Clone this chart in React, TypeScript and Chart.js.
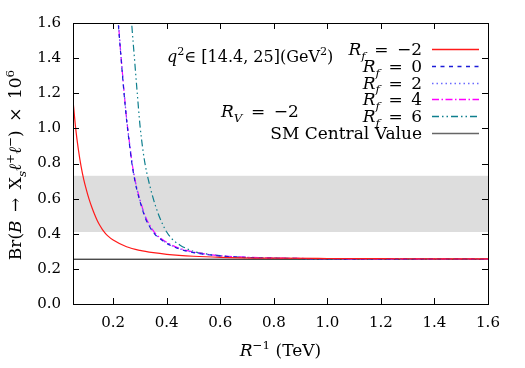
import { useEffect, useRef } from "react";
import { Chart, registerables } from "chart.js";

Chart.register(...registerables);

// Axis ranges and tick labels
const xMin = 0.05;
const xMax = 1.6;
const xTickValues = [0.2, 0.4, 0.6, 0.8, 1.0, 1.2, 1.4, 1.6];
const yMin = 0;
const yMax = 1.6;
const yTickValues = [0, 0.2, 0.4, 0.6, 0.8, 1.0, 1.2, 1.4, 1.6];

// Experimental band and SM central value
const bandLow = 0.41;
const bandHigh = 0.73;
const smValue = 0.255;

// R_f = -2
const rfM2X = [0.05, 0.06, 0.07, 0.08, 0.09, 0.1, 0.11, 0.12, 0.13, 0.14, 0.15, 0.16, 0.17, 0.18, 0.2, 0.25, 0.3, 0.35, 0.4, 0.5, 0.6, 0.8, 1.0, 1.2, 1.4, 1.6];
const rfM2Y = [1.16, 1.0, 0.88, 0.785, 0.71, 0.65, 0.597, 0.552, 0.512, 0.477, 0.448, 0.424, 0.404, 0.388, 0.364, 0.326, 0.305, 0.292, 0.283, 0.272, 0.266, 0.261, 0.259, 0.258, 0.257, 0.257];

// R_f = 0, 2, 4 share one grid
const rfLowX = [0.21, 0.22, 0.23, 0.24, 0.25, 0.26, 0.27, 0.28, 0.29, 0.3, 0.32, 0.34, 0.36, 0.38, 0.4, 0.45, 0.5, 0.6, 0.7, 0.8, 1.0, 1.2, 1.4, 1.6];
const rf0Y = [1.78, 1.58, 1.39, 1.21, 1.05, 0.92, 0.8, 0.71, 0.64, 0.585, 0.49, 0.43, 0.39, 0.366, 0.345, 0.312, 0.293, 0.273, 0.265, 0.261, 0.258, 0.257, 0.257, 0.256];
const rf2Y = [1.79, 1.59, 1.4, 1.22, 1.06, 0.93, 0.81, 0.715, 0.645, 0.59, 0.495, 0.434, 0.393, 0.368, 0.347, 0.313, 0.294, 0.273, 0.265, 0.261, 0.258, 0.257, 0.257, 0.256];
const rf4Y = [1.79, 1.59, 1.4, 1.22, 1.06, 0.93, 0.81, 0.72, 0.65, 0.595, 0.5, 0.44, 0.398, 0.372, 0.351, 0.316, 0.296, 0.275, 0.266, 0.262, 0.258, 0.257, 0.257, 0.256];

// R_f = 6
const rf6X = [0.26, 0.27, 0.28, 0.29, 0.3, 0.31, 0.32, 0.34, 0.36, 0.38, 0.4, 0.42, 0.45, 0.5, 0.55, 0.6, 0.7, 0.8, 1.0, 1.2, 1.4, 1.6];
const rf6Y = [1.8, 1.58, 1.39, 1.2, 1.02, 0.89, 0.79, 0.655, 0.55, 0.47, 0.41, 0.37, 0.335, 0.3, 0.285, 0.275, 0.263, 0.26, 0.258, 0.257, 0.257, 0.256];

const smX = [xMin, xMax];
const smY = [smValue, smValue];

// Series styling
const seriesColors = ["#ff1a1a", "#1c1cd8", "#6a6aff", "#ff00ff", "#0e7f8e", "#000000"];
const legendColors = ["#ff1a1a", "#1c1cd8", "#6a6aff", "#ff00ff", "#0e7f8e", "#666666"];
const seriesDashes = [[], [4, 4.5], [1.5, 3], [7, 2.5, 1.5, 2.5], [7, 3, 1.5, 3, 1.5, 3], []];

// Text (mini markup: *italic*, _{sub}, ^{sup})
const EQ = "\u2002=\u2002";
const legendLabels = [`*R*_{*f*}${EQ}−2`, `*R*_{*f*}${EQ}0`, `*R*_{*f*}${EQ}2`, `*R*_{*f*}${EQ}4`, `*R*_{*f*}${EQ}6`, "SM Central Value"];
const rangeText = "*q*^{2}∈ [14.4, 25](GeV^{2})";
const rvText = `*R*_{*V*}${EQ}−2`;
const xTitle = "*R*^{−1} (TeV)";
const yTitle = "Br(*B*\u2002→\u2002X_{*s*}*ℓ*^{+}*ℓ*^{−})\u2002×\u200210^{6}";

const FAMILY = "'DejaVu Serif', serif";

type Seg = { t: string; it: boolean; pos: number };

function parseRich(s: string): Seg[] {
  const out: Seg[] = [];
  let it = false;
  let pos = 0;
  let buf = "";
  const flush = () => {
    if (buf) out.push({ t: buf, it, pos });
    buf = "";
  };
  for (let i = 0; i < s.length; i++) {
    const c = s[i];
    if (c === "*") {
      flush();
      it = !it;
    } else if ((c === "_" || c === "^") && s[i + 1] === "{") {
      flush();
      pos = c === "_" ? -1 : 1;
      i++;
    } else if (c === "}" && pos !== 0) {
      flush();
      pos = 0;
    } else buf += c;
  }
  flush();
  return out;
}

function segFont(seg: Seg, size: number) {
  const sz = seg.pos !== 0 ? size * 0.7 : size;
  return `${seg.it ? "italic " : ""}${sz}px ${FAMILY}`;
}

function drawRich(ctx: CanvasRenderingContext2D, s: string, x: number, y: number, size: number, align: string) {
  const segs = parseRich(s);
  let w = 0;
  for (const seg of segs) {
    ctx.font = segFont(seg, size);
    w += ctx.measureText(seg.t).width;
  }
  let cx = align === "left" ? x : align === "right" ? x - w : x - w / 2;
  ctx.textAlign = "left";
  ctx.textBaseline = "alphabetic";
  ctx.fillStyle = "#000";
  for (const seg of segs) {
    ctx.font = segFont(seg, size);
    const dy = seg.pos === -1 ? size * 0.28 : seg.pos === 1 ? -size * 0.42 : 0;
    ctx.fillText(seg.t, cx, y + dy);
    cx += ctx.measureText(seg.t).width;
  }
}

const decorPlugin = {
  id: "decor",
  beforeDatasetsDraw(chart: any) {
    const { ctx, chartArea: a, scales } = chart;
    const yTop = scales.y.getPixelForValue(bandHigh);
    const yBot = scales.y.getPixelForValue(bandLow);
    ctx.save();
    ctx.fillStyle = "#dddddd";
    ctx.fillRect(a.left, yTop, a.right - a.left, yBot - yTop);
    ctx.restore();
  },
  afterDatasetsDraw(chart: any) {
    const { ctx, chartArea: a, scales } = chart;
    ctx.save();
    // frame
    ctx.strokeStyle = "#000";
    ctx.lineWidth = 1;
    ctx.strokeRect(Math.round(a.left) + 0.5, Math.round(a.top) + 0.5, Math.round(a.right - a.left), Math.round(a.bottom - a.top));
    // inward ticks on all sides
    const tl = 6;
    ctx.beginPath();
    for (const v of xTickValues) {
      const px = Math.round(scales.x.getPixelForValue(v)) + 0.5;
      ctx.moveTo(px, a.bottom);
      ctx.lineTo(px, a.bottom - tl);
      ctx.moveTo(px, a.top);
      ctx.lineTo(px, a.top + tl);
    }
    for (const v of yTickValues) {
      const py = Math.round(scales.y.getPixelForValue(v)) + 0.5;
      ctx.moveTo(a.left, py);
      ctx.lineTo(a.left + tl, py);
      ctx.moveTo(a.right, py);
      ctx.lineTo(a.right - tl, py);
    }
    ctx.stroke();

    // annotations
    drawRich(ctx, rangeText, 167, 62, 16, "left");
    drawRich(ctx, rvText, 221, 117, 17, "left");

    // legend
    const textRight = 422;
    const lineX0 = 432;
    const lineX1 = 479;
    const rowTop = 49.3;
    const rowStep = 16.7;
    legendLabels.forEach((label, i) => {
      const yRow = rowTop + i * rowStep;
      drawRich(ctx, label, textRight, yRow + 6, 17, "right");
      ctx.beginPath();
      ctx.strokeStyle = legendColors[i];
      ctx.lineWidth = i === 5 ? 1.6 : 1.3;
      ctx.setLineDash(seriesDashes[i]);
      ctx.moveTo(lineX0, Math.round(yRow) + 0.5);
      ctx.lineTo(lineX1, Math.round(yRow) + 0.5);
      ctx.stroke();
      ctx.setLineDash([]);
    });

    // axis titles
    drawRich(ctx, xTitle, (a.left + a.right) / 2, 356, 17, "center");
    ctx.translate(21, 165);
    ctx.rotate(-Math.PI / 2);
    drawRich(ctx, yTitle, 0, 0, 17, "center");
    ctx.restore();
  },
};

function series(label: string, xs: number[], ys: number[], i: number, width = 1.2) {
  return {
    label,
    data: xs.map((x, k) => ({ x, y: ys[k] })),
    borderColor: seriesColors[i],
    borderDash: seriesDashes[i],
    borderWidth: width,
    pointRadius: 0,
    fill: false,
    cubicInterpolationMode: "monotone",
  };
}

export default function App() {
  const canvasRef = useRef<HTMLCanvasElement>(null);

  useEffect(() => {
    if (!canvasRef.current) return;
    const chart = new Chart(canvasRef.current, {
      type: "line",
      data: {
        datasets: [
          series("Rf = −2", rfM2X, rfM2Y, 0),
          series("Rf = 0", rfLowX, rf0Y, 1),
          series("Rf = 2", rfLowX, rf2Y, 2),
          series("Rf = 4", rfLowX, rf4Y, 3),
          series("Rf = 6", rf6X, rf6Y, 4),
          series("SM Central Value", smX, smY, 5, 1),
        ] as any,
      },
      options: {
        responsive: false,
        animation: false,
        layout: { padding: { top: 23, right: 37, left: 0, bottom: 0 } },
        plugins: { legend: { display: false }, tooltip: { enabled: false } },
        scales: {
          x: {
            type: "linear",
            min: xMin,
            max: xMax,
            grid: { display: false, drawTicks: false },
            border: { display: false },
            afterBuildTicks: (s: any) => {
              s.ticks = xTickValues.map((v) => ({ value: v }));
            },
            afterFit: (s: any) => {
              s.height = 64;
            },
            ticks: {
              padding: 10,
              color: "#000",
              font: { family: FAMILY, size: 15 },
              maxRotation: 0,
              callback: (v: any) => Number(v).toFixed(1),
            },
          },
          y: {
            type: "linear",
            min: yMin,
            max: yMax,
            grid: { display: false, drawTicks: false },
            border: { display: false },
            afterBuildTicks: (s: any) => {
              s.ticks = yTickValues.map((v) => ({ value: v }));
            },
            afterFit: (s: any) => {
              s.width = 73;
            },
            ticks: {
              padding: 12,
              color: "#000",
              font: { family: FAMILY, size: 15 },
              callback: (v: any) => Number(v).toFixed(1),
            },
          },
        },
      },
      plugins: [decorPlugin],
    });
    return () => chart.destroy();
  }, []);

  return (
    <div style={{ position: "fixed", left: 0, top: 0, width: 525, height: 368, background: "#fff" }}>
      <canvas ref={canvasRef} width={525} height={368} />
    </div>
  );
}
